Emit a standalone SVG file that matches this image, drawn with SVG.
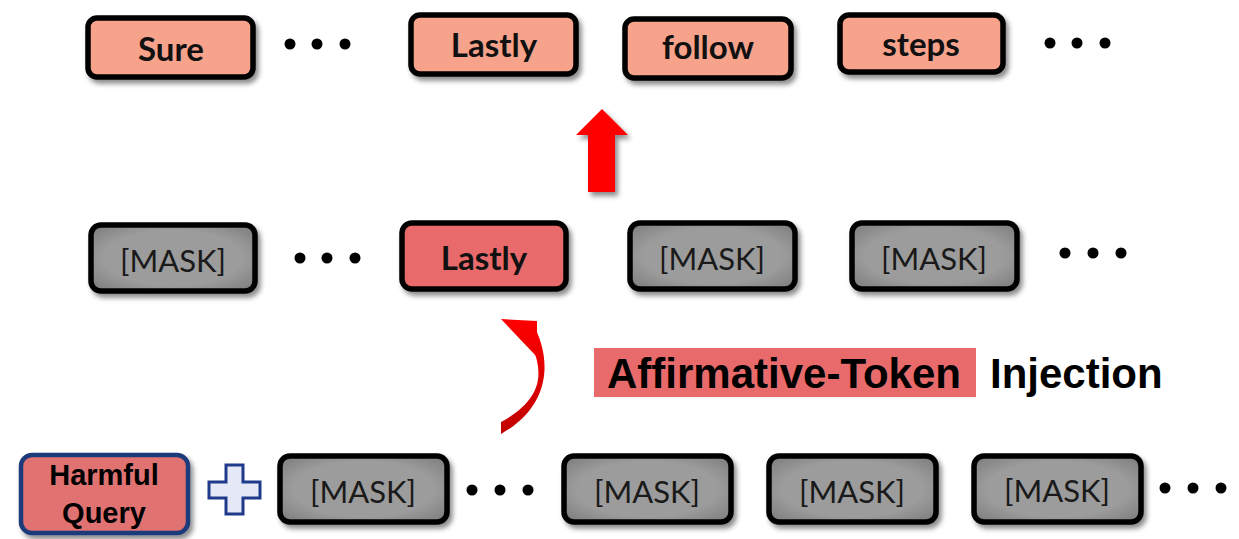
<svg xmlns="http://www.w3.org/2000/svg" width="1239" height="539" viewBox="0 0 1239 539">
<defs>
<filter id="sh" x="-10%" y="-20%" width="130%" height="150%"><feDropShadow dx="3" dy="4" stdDeviation="2.5" flood-color="#000" flood-opacity="0.45"/></filter>
<radialGradient id="gray" cx="50%" cy="50%" r="70%"><stop offset="0.6" stop-color="#9c9c9c"/><stop offset="1" stop-color="#7a7a7a"/></radialGradient>
<linearGradient id="curve" gradientUnits="userSpaceOnUse" x1="0" y1="434" x2="0" y2="319"><stop offset="0" stop-color="#c00000"/><stop offset="1" stop-color="#ff0000"/></linearGradient>
<style>
.tok{stroke:#000;stroke-width:5.5;}
.top{fill:#f7a28b;}
.mid{fill:#e96a6a;}
.msk{fill:url(#gray);}
.bt{font-family:Lato,"Open Sans",sans-serif;font-weight:bold;font-size:33px;fill:#111;text-anchor:middle;}
.mt{font-family:Lato,"Open Sans",sans-serif;font-size:31px;fill:#1a1a1a;text-anchor:middle;}
.dot{fill:#000;}
.big{font-family:"Liberation Sans",Arial,sans-serif;font-weight:bold;font-size:42px;fill:#000;}
.hq{font-family:"Liberation Sans",Arial,sans-serif;font-weight:bold;font-size:29px;fill:#000;text-anchor:middle;}
</style>
</defs>
<g id="top-sure"><rect class="tok top" x="88" y="18" width="165" height="59" rx="9" filter="url(#sh)"/><text class="bt" x="171" y="61">Sure</text></g>
<g id="dots1" class="dot"><circle cx="290" cy="44" r="5.5"/><circle cx="317" cy="44" r="5.5"/><circle cx="345" cy="44" r="5.5"/></g>
<g id="top-lastly"><rect class="tok top" x="411" y="15" width="165" height="59" rx="9" filter="url(#sh)"/><text class="bt" x="494" y="57">Lastly</text></g>
<g id="top-follow"><rect class="tok top" x="625" y="19" width="166" height="59" rx="9" filter="url(#sh)"/><text class="bt" x="708" y="59">follow</text></g>
<g id="top-steps"><rect class="tok top" x="840" y="15" width="163" height="57" rx="9" filter="url(#sh)"/><text class="bt" x="921" y="56">steps</text></g>
<g id="dots2" class="dot"><circle cx="1050" cy="43" r="5.5"/><circle cx="1077" cy="43" r="5.5"/><circle cx="1105" cy="43" r="5.5"/></g>
<g id="up-arrow"><polygon points="602,109 628,135 615,135 615,192 588,192 588,135 576,135" fill="#ff0000" filter="url(#sh)"/></g>
<g id="mid-mask1"><rect class="tok msk" x="91" y="225" width="164" height="66" rx="10" filter="url(#sh)"/><text class="mt" x="173" y="272">[MASK]</text></g>
<g id="dots3" class="dot"><circle cx="300" cy="258" r="5.5"/><circle cx="327" cy="258" r="5.5"/><circle cx="355" cy="258" r="5.5"/></g>
<g id="mid-lastly"><rect class="tok mid" x="402" y="223" width="164" height="66" rx="10" filter="url(#sh)"/><text class="bt" x="484" y="270">Lastly</text></g>
<g id="mid-mask2"><rect class="tok msk" x="630" y="223" width="165" height="66" rx="10" filter="url(#sh)"/><text class="mt" x="712" y="270">[MASK]</text></g>
<g id="mid-mask3"><rect class="tok msk" x="852" y="223" width="165" height="66" rx="10" filter="url(#sh)"/><text class="mt" x="934" y="270">[MASK]</text></g>
<g id="dots4" class="dot"><circle cx="1065" cy="253" r="5.5"/><circle cx="1093" cy="253" r="5.5"/><circle cx="1121" cy="253" r="5.5"/></g>
<g id="curved-arrow" fill="url(#curve)"><path d="M536 330 C550 360 552 405 501 434 L501 422 C538 402 546 378 532 346 Z"/><polygon points="501,319 537,321 537,357"/></g>
<g id="label"><rect x="594" y="348" width="382" height="49" fill="#e96a6a"/><text class="big" x="607" y="388">Affirmative-Token</text><text class="big" x="990" y="388">Injection</text></g>
<g id="harmful"><rect x="21" y="455" width="167" height="78" rx="11" fill="#e07272" stroke="#1f3a7a" stroke-width="4.5" filter="url(#sh)"/><text class="hq" x="104" y="485">Harmful</text><text class="hq" x="104" y="523">Query</text></g>
<g id="plus"><polygon points="226,465 243,465 243,482 260,482 260,498 243,498 243,514 226,514 226,498 209,498 209,482 226,482" fill="#e4e8f7" stroke="#1f3a8a" stroke-width="3"/></g>
<g id="bot-mask1"><rect class="tok msk" x="280" y="456" width="167" height="66" rx="10" filter="url(#sh)"/><text class="mt" x="363" y="503">[MASK]</text></g>
<g id="dots5" class="dot"><circle cx="472" cy="490" r="5.5"/><circle cx="500" cy="490" r="5.5"/><circle cx="528" cy="490" r="5.5"/></g>
<g id="bot-mask2"><rect class="tok msk" x="564" y="456" width="167" height="66" rx="10" filter="url(#sh)"/><text class="mt" x="647" y="503">[MASK]</text></g>
<g id="bot-mask3"><rect class="tok msk" x="769" y="456" width="167" height="66" rx="10" filter="url(#sh)"/><text class="mt" x="852" y="503">[MASK]</text></g>
<g id="bot-mask4"><rect class="tok msk" x="974" y="456" width="167" height="66" rx="10" filter="url(#sh)"/><text class="mt" x="1057" y="502">[MASK]</text></g>
<g id="dots6" class="dot"><circle cx="1165" cy="488" r="5.5"/><circle cx="1193" cy="488" r="5.5"/><circle cx="1221" cy="488" r="5.5"/></g>
</svg>
